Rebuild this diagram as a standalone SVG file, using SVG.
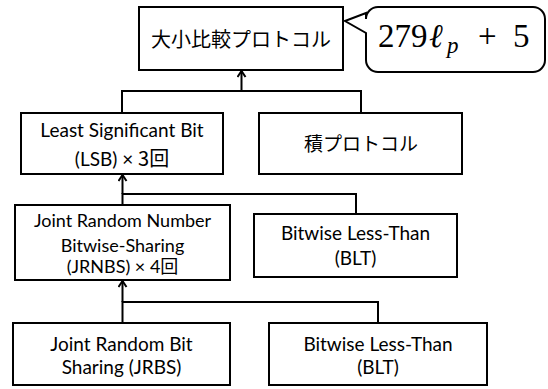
<svg xmlns="http://www.w3.org/2000/svg" width="548" height="389" viewBox="0 0 548 389">
  <style>
    .box { fill: #ffffff; stroke: #000000; stroke-width: 2; }
    .conn { fill: none; stroke: #000000; stroke-width: 2; }
    .t { font-family: "Lato", "Noto Sans CJK JP", sans-serif; fill: #000000; text-anchor: middle; }
    .jp { font-family: "Noto Sans CJK JP", sans-serif; fill: #000000; text-anchor: middle; }
    .math { font-family: "Liberation Serif", "DejaVu Serif", serif; fill: #000000; }
  </style>
  <defs>
    <marker id="arrow" markerUnits="userSpaceOnUse" markerWidth="10" markerHeight="10" viewBox="0 0 10 10" refX="9" refY="5" orient="auto">
      <path d="M3,1 L9,5 L3,9" fill="none" stroke="#000000" stroke-width="2"/>
    </marker>
  </defs>
  <rect width="548" height="389" fill="#ffffff"/>

  <g id="connectors">
    <path class="conn" d="M241.5,91 L241.5,71" marker-end="url(#arrow)"/>
    <path class="conn" d="M122,113 L122,91 L361,91 L361,113"/>
    <path class="conn" d="M122.5,194 L122.5,175" marker-end="url(#arrow)"/>
    <path class="conn" d="M122.5,205 L122.5,194 L356,194 L356,214"/>
    <path class="conn" d="M122.5,302 L122.5,281" marker-end="url(#arrow)"/>
    <path class="conn" d="M122.5,323 L122.5,302 L378,302 L378,323"/>
  </g>

  <g id="node-compare">
    <rect class="box" x="139" y="7" width="204" height="63"/>
    <text class="jp" x="241" y="47" font-size="20">大小比較プロトコル</text>
  </g>

  <g id="callout">
    <path class="conn" d="M378,7 L533,7 A12,12 0 0 1 545,19 L545,60 A12,12 0 0 1 533,72 L378,72 A12,12 0 0 1 366,60 L366,33 L345,21 L366,13 L366,19 A12,12 0 0 1 378,7 Z" fill="#ffffff"/>
    <text class="math" y="47" font-size="33"><tspan x="378">279</tspan><tspan x="429" font-style="italic">ℓ</tspan><tspan x="447" y="53" font-size="23" font-style="italic">p</tspan><tspan x="478" y="47">+</tspan><tspan x="513" y="47">5</tspan></text>
  </g>

  <g id="node-lsb">
    <rect class="box" x="21" y="113" width="202" height="61"/>
    <text class="t" x="122" y="137" font-size="19">Least Significant Bit</text>
    <text class="t" x="122" y="166" font-size="19">(LSB) × <tspan font-family="Noto Sans CJK JP, sans-serif" font-size="20">3回</tspan></text>
  </g>

  <g id="node-mult">
    <rect class="box" x="259" y="113" width="203" height="61"/>
    <text class="jp" x="361" y="151" font-size="19">積プロトコル</text>
  </g>

  <g id="node-jrnbs">
    <rect class="box" x="15" y="205" width="215" height="75"/>
    <text class="t" x="122.5" y="227" font-size="18">Joint Random Number</text>
    <text class="t" x="122.5" y="252" font-size="18">Bitwise-Sharing</text>
    <text class="t" x="122.5" y="273" font-size="18">(JRNBS) × 4回</text>
  </g>

  <g id="node-blt1">
    <rect class="box" x="254" y="214" width="203" height="63"/>
    <text class="t" x="355.5" y="240" font-size="19">Bitwise Less-Than</text>
    <text class="t" x="355.5" y="265" font-size="19">(BLT)</text>
  </g>

  <g id="node-jrbs">
    <rect class="box" x="13" y="323" width="217" height="62"/>
    <text class="t" x="121.5" y="351" font-size="19">Joint Random Bit</text>
    <text class="t" x="121.5" y="374" font-size="19">Sharing (JRBS)</text>
  </g>

  <g id="node-blt2">
    <rect class="box" x="269" y="323" width="218" height="62"/>
    <text class="t" x="378" y="351" font-size="19">Bitwise Less-Than</text>
    <text class="t" x="378" y="374" font-size="19">(BLT)</text>
  </g>
</svg>
